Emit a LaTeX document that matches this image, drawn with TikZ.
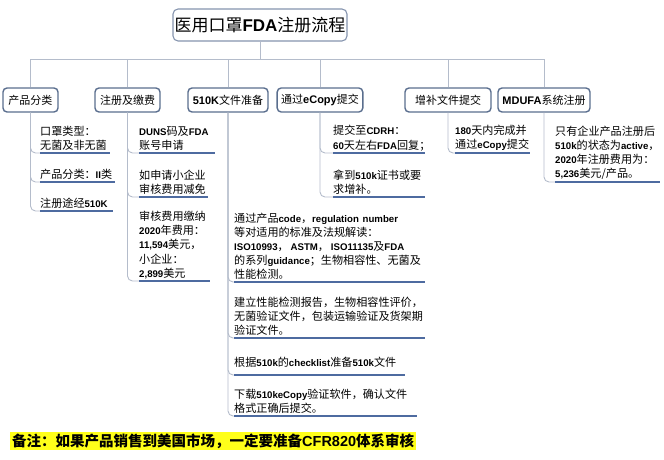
\documentclass[tikz,border=0pt]{standalone}
\usepackage{fontspec}
\setmainfont{Noto Sans CJK SC}
\newfontfamily\latinfont{Liberation Sans}[Scale=0.87]
\newfontfamily\latinnote{Liberation Sans}
\newcommand\B[1]{{\latinfont\bfseries #1}}
\newcommand\BB[1]{{\latinnote\bfseries #1}}
\definecolor{boxc}{HTML}{5A6E8E}
\definecolor{titlec}{HTML}{8594AE}
\definecolor{connc}{HTML}{B4BCCB}
\definecolor{ulc}{HTML}{4E6BA0}
\definecolor{notec}{HTML}{FFFF1A}
\begin{document}
\begin{tikzpicture}[x=1pt,y=-1pt,
  lvl/.style={draw=boxc, line width=1.4pt, rounded corners=4pt, fill=white,
    minimum height=24pt, inner xsep=4pt, inner ysep=0pt,
    font=\fontsize{11}{13}\selectfont},
  leaf/.style={anchor=south west, inner xsep=0pt, inner ysep=2pt, align=left,
    font=\fontsize{11.1}{14.2}\selectfont},
  conn/.style={draw=connc, line width=0.9pt, rounded corners=5pt},
  uline/.style={draw=ulc, line width=1.8pt}]
\useasboundingbox (0,0) rectangle (664,460);

% title
\node[draw=titlec, line width=1.1pt, rounded corners=5pt, fill=white,
  minimum width=174pt, minimum height=32pt, inner sep=0pt,
  font=\fontsize{17}{20}\selectfont] (title) at (260,25) {医用口罩\BB{FDA}注册流程};

% level 1 boxes
\node[lvl, minimum width=55pt] (b1) at (30.5,100) {产品分类};
\node[lvl, minimum width=65pt] (b2) at (127.5,100) {注册及缴费};
\node[lvl, minimum width=80pt] (b3) at (228,100) {\BB{510K}文件准备};
\node[lvl, minimum width=84pt] (b4) at (320,100) {通过\BB{eCopy}提交};
\node[lvl, minimum width=86pt] (b5) at (448,100) {增补文件提交};
\node[lvl, minimum width=92pt] (b6) at (544,100) {\BB{MDUFA}系统注册};

\coordinate (bus) at (0,59);

% bus connectors
\draw[conn, rounded corners=0pt] (title.south) -- (title.south |- bus);
\draw[conn, rounded corners=0pt] (b1.north) -- (b1.north |- bus) -- (b6.north |- bus) -- (b6.north);
\foreach \b in {b2,b3,b4,b5}
  \draw[conn] (\b.north) -- (\b.north |- bus);

% leaves
\node[leaf, text width=70pt] (c11) at (40,153) {口罩类型：\\无菌及非无菌};
\node[leaf, text width=75pt] (c12) at (40,182) {产品分类：\B{II}类};
\node[leaf, text width=73pt] (c13) at (40,211) {注册途经\B{510K}};

\node[leaf, text width=76pt] (c21) at (139,153) {\B{DUNS}码及\B{FDA}\\账号申请};
\node[leaf, text width=69pt] (c22) at (139,197) {如申请小企业\\审核费用减免};
\node[leaf, text width=71pt] (c23) at (139,281) {审核费用缴纳\\\B{2020}年费用：\\\B{11,594}美元，\\小企业：\\\B{2,899}美元};

\node[leaf, text width=191pt] (c31) at (234,282) {通过产品\B{code}，\B{regulation number}\\等对适用的标准及法规解读：\\\B{ISO10993}，\,\B{ASTM}，\,\B{ISO11135}及\B{FDA}\\的系列\B{guidance}；生物相容性、无菌及\\性能检测。};
\node[leaf, text width=191pt] (c32) at (234,338) {建立性能检测报告，生物相容性评价，\\无菌验证文件，包装运输验证及货架期\\验证文件。};
\node[leaf, text width=171pt, inner ysep=7pt] (c33) at (234,375) {根据\B{510k}的\B{checklist}准备\B{510k}文件};
\node[leaf, text width=183pt] (c34) at (234,416) {下载\B{510keCopy}验证软件，确认文件\\格式正确后提交。};

\node[leaf, text width=92pt] (c41) at (333,153) {提交至\B{CDRH}：\\\B{60}天左右\B{FDA}回复；};
\node[leaf, text width=92pt] (c42) at (333,197) {拿到\B{510k}证书或要\\求增补。};

\node[leaf, text width=75pt] (c51) at (455,153) {\B{180}天内完成并\\通过\B{eCopy}提交};

\node[leaf, text width=105pt] (c61) at (555,182) {只有企业产品注册后\\\B{510k}的状态为\B{active}，\\\B{2020}年注册费用为：\\\B{5,236}美元/产品。};

% tree connectors
\foreach \p/\c in {b1/c11,b1/c12,b1/c13,b2/c21,b2/c22,b2/c23,b3/c31,b3/c32,b3/c33,b3/c34,b4/c41,b4/c42,b5/c51,b6/c61}
  \draw[conn] (\p.south) |- (\c.south west);

% underlines
\foreach \c in {c11,c12,c13,c21,c22,c23,c31,c32,c33,c34,c41,c42,c51,c61}
  \draw[uline] (\c.south west) -- (\c.south east);

% note
\node[fill=notec, anchor=west, minimum height=18pt, inner xsep=2pt, inner ysep=0pt,
  font=\fontsize{14.5}{16}\selectfont\bfseries] (note) at (10,441)
  {备注：如果产品销售到美国市场，一定要准备\BB{CFR820}体系审核};
\end{tikzpicture}
\end{document}
